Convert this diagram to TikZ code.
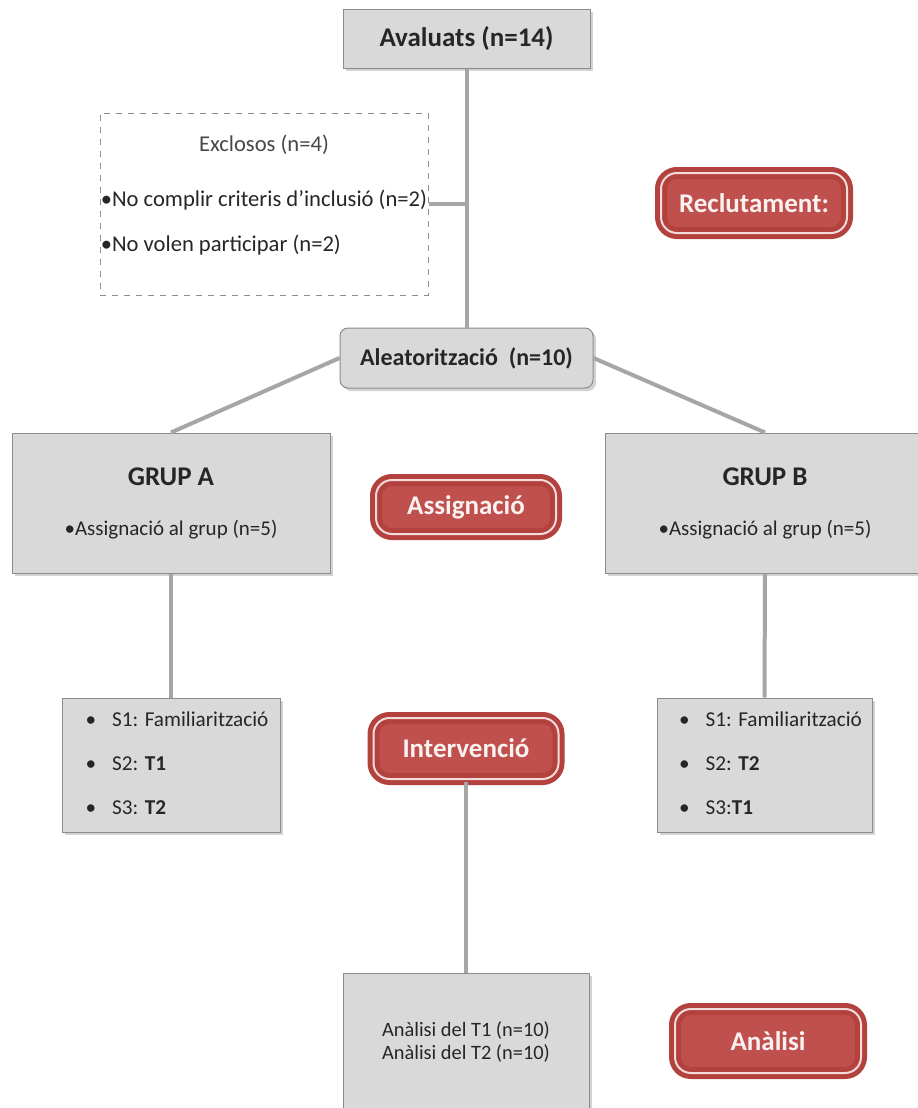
\documentclass[tikz,border=0pt]{standalone}
\usepackage{fontspec}
\setmainfont{Carlito}
\usetikzlibrary{shadows}
\definecolor{boxgray}{HTML}{D9D9D9}
\definecolor{edgegray}{HTML}{8C8C8C}
\definecolor{linegray}{HTML}{A6A6A6}
\definecolor{boxred}{HTML}{C0504D}
\definecolor{rimred}{HTML}{B3413E}
\definecolor{pinkline}{HTML}{F2DCDB}
\definecolor{inktext}{HTML}{262626}
\begin{document}
\begin{tikzpicture}[x=0.5pt, y=-0.5pt, thick,
		graybox/.style={draw=edgegray, line width=0.5pt, fill=boxgray, align=center, inner sep=0pt, text=inktext,
			drop shadow={shadow xshift=1.5pt, shadow yshift=-1.5pt, opacity=0.35}},
		redbox/.style={fill=boxred, draw=rimred, double=pinkline, line width=2.5pt, double distance=1pt,
			rounded corners=8pt, text=pinkline!40!white, font=\fontsize{13.5}{16}\selectfont\bfseries, inner sep=0pt},
		link/.style={draw=linegray, line width=2pt},
		title/.style={font=\fontsize{13.5}{16}\selectfont\bfseries},
		plain/.style={font=\fontsize{11.3}{13}\selectfont, text=inktext}]
	% 1. marc
	\useasboundingbox (0,0) rectangle (917,1108);
	
	% 2. reclutament
	\node[graybox, title, minimum width=123.5pt, minimum height=29.5pt] (aval) at (466.5,38.5) {Avaluats (n=14)};
	\node[draw=edgegray, dashed, line width=0.5pt, minimum width=164pt, minimum height=91pt] (excl) at (264,204) {};
	\node[plain, text=inktext!85!white] (exclT) at (264,145) {Exclosos (n=4)};
	\node[plain, anchor=west, inner sep=0pt] (excl1) at (100,200) {\textbullet No complir criteris d’inclusió (n=2)};
	\node[plain, anchor=west, inner sep=0pt] (excl2) at (100,245) {\textbullet No volen participar (n=2)};
	\node[redbox, minimum width=93pt, minimum height=30pt] (recl) at (754,203) {Reclutament:};
	\node[graybox, font=\fontsize{12}{14}\selectfont\bfseries, rounded corners=4pt, minimum width=126.5pt, minimum height=30pt] (alea) at (466.5,358) {Aleatorització~ (n=10)};
	
	% 3. assignacio
	\node[graybox, minimum width=159pt, minimum height=70pt] (grupA) at (171,503)
		{{\fontsize{13.5}{16}\selectfont\bfseries GRUP A}\\[13pt]{\fontsize{10.5}{12}\selectfont\textbullet Assignació al grup (n=5)}};
	\node[graybox, minimum width=160pt, minimum height=70pt] (grupB) at (765,503)
		{{\fontsize{13.5}{16}\selectfont\bfseries GRUP B}\\[13pt]{\fontsize{10.5}{12}\selectfont\textbullet Assignació al grup (n=5)}};
	\node[redbox, minimum width=90pt, minimum height=27pt] (assig) at (466,507) {Assignació};
	
	% 4. intervencio
	\node[graybox, font=\fontsize{10.6}{13}\selectfont, minimum width=109pt, minimum height=67pt] (sesA) at (171,765)
		{\begin{tabular}{@{\hspace{6pt}}l@{\hspace{8pt}}l@{}}
			\textbullet & S1: Familiarització\\[9pt]
			\textbullet & S2: \textbf{T1}\\[9pt]
			\textbullet & S3: \textbf{T2}
		\end{tabular}};
	\node[graybox, font=\fontsize{10.6}{13}\selectfont, minimum width=107.5pt, minimum height=67pt] (sesB) at (764.5,765)
		{\begin{tabular}{@{\hspace{6pt}}l@{\hspace{8pt}}l@{}}
			\textbullet & S1: Familiarització\\[9pt]
			\textbullet & S2: \textbf{T2}\\[9pt]
			\textbullet & S3:\textbf{T1}
		\end{tabular}};
	\node[redbox, minimum width=92.5pt, minimum height=30.5pt] (inter) at (466,748.5) {Intervenció};
	
	% 5. analisi
	\node[graybox, font=\fontsize{10.2}{11.5}\selectfont, minimum width=123pt, minimum height=68.5pt] (anal) at (466,1041.5)
		{Anàlisi del T1 (n=10)\\Anàlisi del T2 (n=10)};
	\node[redbox, minimum width=93pt, minimum height=32pt] (analR) at (768,1041) {Anàlisi};
	
	% 6. connectors
	\draw[link] (aval.south) -- (alea.north);
	\draw[link] (excl.east) -- (excl.east -| aval.south);
	\draw[link] (alea.west) -- (grupA.north);
	\draw[link] (alea.east) -- (grupB.north);
	\draw[link] (grupA.south) -- (sesA.north);
	\draw[link] (grupB.south) -- (sesB.north);
	\draw[link] (inter.south) -- (anal.north);
\end{tikzpicture}
\end{document}
